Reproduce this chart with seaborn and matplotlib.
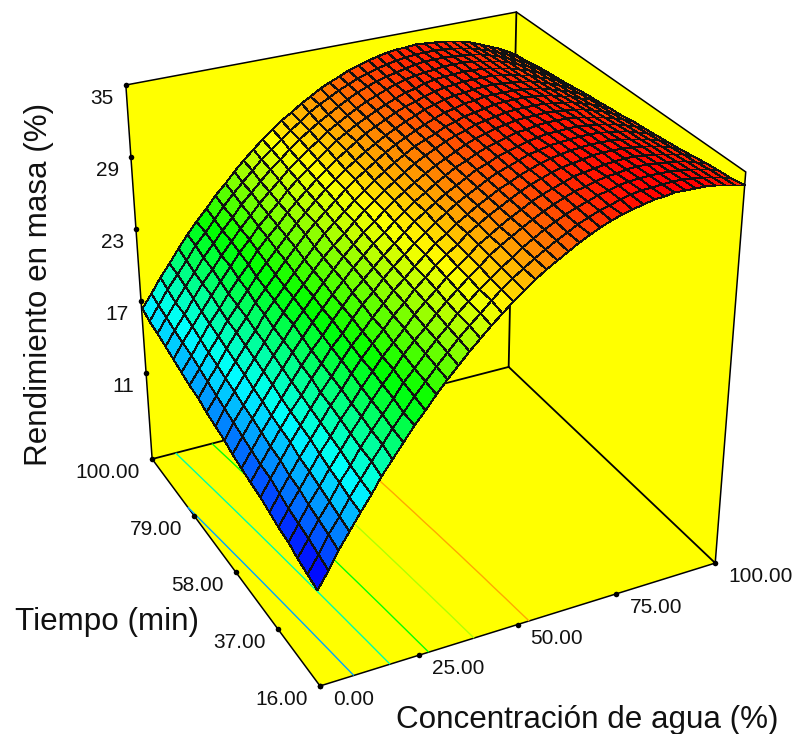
import numpy as np
import pandas as pd
import matplotlib
matplotlib.use("Agg")
import matplotlib.pyplot as plt
import seaborn as sns

# Datos

agua = [0, 2.5, 5, 7.5, 10, 12.5, 15, 17.5, 20, 22.5, 25, 27.5, 30, 32.5, 35, 37.5, 40, 42.5, 45, 47.5, 50,
        52.5, 55, 57.5, 60, 62.5, 65, 67.5, 70, 72.5, 75, 77.5, 80, 82.5, 85, 87.5, 90, 92.5, 95, 97.5, 100]
tiempo = [16.0, 20.2, 24.4, 28.6, 32.8, 37.0, 41.2, 45.4, 49.6, 53.8, 58.0,
          62.2, 66.4, 70.6, 74.8, 79.0, 83.2, 87.4, 91.6, 95.8, 100.0]

# una fila por cada concentracion de agua, una columna por cada tiempo
rendimiento = [
    [11.10, 11.38, 11.65, 11.93, 12.20, 12.48, 12.75, 13.03, 13.30, 13.58, 13.85, 14.13, 14.40, 14.68, 14.95, 15.23, 15.50, 15.78, 16.05, 16.33, 16.60],
    [12.47, 12.74, 13.00, 13.27, 13.53, 13.80, 14.06, 14.33, 14.59, 14.86, 15.12, 15.39, 15.65, 15.92, 16.18, 16.45, 16.71, 16.98, 17.24, 17.51, 17.77],
    [13.79, 14.05, 14.30, 14.56, 14.81, 15.07, 15.32, 15.58, 15.83, 16.09, 16.34, 16.60, 16.85, 17.11, 17.36, 17.62, 17.87, 18.13, 18.38, 18.64, 18.89],
    [15.08, 15.33, 15.57, 15.82, 16.06, 16.31, 16.55, 16.80, 17.04, 17.29, 17.53, 17.78, 18.02, 18.27, 18.51, 18.76, 19.00, 19.25, 19.49, 19.74, 19.98],
    [16.32, 16.56, 16.79, 17.03, 17.26, 17.50, 17.73, 17.97, 18.20, 18.44, 18.67, 18.91, 19.14, 19.38, 19.61, 19.85, 20.08, 20.32, 20.55, 20.79, 21.02],
    [17.53, 17.76, 17.98, 18.21, 18.43, 18.66, 18.88, 19.11, 19.33, 19.56, 19.78, 20.01, 20.23, 20.46, 20.68, 20.91, 21.13, 21.36, 21.58, 21.81, 22.03],
    [18.69, 18.91, 19.12, 19.34, 19.55, 19.77, 19.98, 20.20, 20.41, 20.63, 20.84, 21.06, 21.27, 21.49, 21.70, 21.92, 22.13, 22.35, 22.56, 22.78, 22.99],
    [19.81, 20.02, 20.22, 20.43, 20.63, 20.84, 21.04, 21.25, 21.45, 21.66, 21.86, 22.07, 22.27, 22.48, 22.68, 22.89, 23.09, 23.30, 23.50, 23.71, 23.91],
    [20.90, 21.10, 21.29, 21.49, 21.68, 21.88, 22.07, 22.27, 22.46, 22.66, 22.85, 23.05, 23.24, 23.44, 23.63, 23.83, 24.02, 24.22, 24.41, 24.61, 24.80],
    [21.94, 22.13, 22.31, 22.50, 22.68, 22.87, 23.05, 23.24, 23.42, 23.61, 23.79, 23.98, 24.16, 24.35, 24.53, 24.72, 24.90, 25.09, 25.27, 25.46, 25.64],
    [22.94, 23.12, 23.29, 23.47, 23.64, 23.82, 23.99, 24.17, 24.34, 24.52, 24.69, 24.87, 25.04, 25.22, 25.39, 25.57, 25.74, 25.92, 26.09, 26.27, 26.44],
    [23.90, 24.07, 24.23, 24.40, 24.56, 24.73, 24.89, 25.06, 25.22, 25.39, 25.55, 25.72, 25.88, 26.05, 26.21, 26.38, 26.54, 26.71, 26.87, 27.04, 27.20],
    [24.82, 24.98, 25.13, 25.29, 25.44, 25.60, 25.75, 25.91, 26.06, 26.22, 26.37, 26.53, 26.68, 26.84, 26.99, 27.15, 27.30, 27.46, 27.61, 27.77, 27.92],
    [25.69, 25.84, 25.98, 26.13, 26.27, 26.42, 26.56, 26.71, 26.85, 27.00, 27.14, 27.29, 27.43, 27.58, 27.72, 27.87, 28.01, 28.16, 28.30, 28.45, 28.59],
    [26.53, 26.67, 26.80, 26.94, 27.07, 27.21, 27.34, 27.48, 27.61, 27.75, 27.88, 28.02, 28.15, 28.29, 28.42, 28.56, 28.69, 28.83, 28.96, 29.10, 29.23],
    [27.33, 27.46, 27.58, 27.71, 27.83, 27.96, 28.08, 28.21, 28.33, 28.46, 28.58, 28.71, 28.83, 28.96, 29.08, 29.21, 29.33, 29.46, 29.58, 29.71, 29.83],
    [28.08, 28.20, 28.31, 28.43, 28.54, 28.66, 28.77, 28.89, 29.00, 29.12, 29.23, 29.35, 29.46, 29.58, 29.69, 29.81, 29.92, 30.04, 30.15, 30.27, 30.38],
    [28.80, 28.91, 29.01, 29.12, 29.22, 29.33, 29.43, 29.54, 29.64, 29.75, 29.85, 29.96, 30.06, 30.17, 30.27, 30.38, 30.48, 30.59, 30.69, 30.80, 30.90],
    [29.47, 29.57, 29.66, 29.76, 29.85, 29.95, 30.04, 30.14, 30.23, 30.33, 30.42, 30.52, 30.61, 30.71, 30.80, 30.90, 30.99, 31.09, 31.18, 31.28, 31.37],
    [30.11, 30.20, 30.28, 30.37, 30.45, 30.54, 30.62, 30.71, 30.79, 30.88, 30.96, 31.05, 31.13, 31.22, 31.30, 31.39, 31.47, 31.56, 31.64, 31.73, 31.81],
    [30.70, 30.78, 30.85, 30.93, 31.00, 31.08, 31.15, 31.23, 31.30, 31.38, 31.45, 31.53, 31.60, 31.68, 31.75, 31.83, 31.90, 31.98, 32.05, 32.13, 32.20],
    [31.25, 31.32, 31.38, 31.45, 31.51, 31.58, 31.64, 31.71, 31.77, 31.84, 31.90, 31.97, 32.03, 32.10, 32.16, 32.23, 32.29, 32.36, 32.42, 32.49, 32.55],
    [31.76, 31.82, 31.87, 31.93, 31.98, 32.04, 32.09, 32.15, 32.20, 32.26, 32.31, 32.37, 32.42, 32.48, 32.53, 32.59, 32.64, 32.70, 32.75, 32.81, 32.86],
    [32.23, 32.28, 32.32, 32.37, 32.41, 32.46, 32.50, 32.55, 32.59, 32.64, 32.68, 32.73, 32.77, 32.82, 32.86, 32.91, 32.95, 33.00, 33.04, 33.09, 33.13],
    [32.66, 32.70, 32.73, 32.77, 32.80, 32.84, 32.87, 32.91, 32.94, 32.98, 33.01, 33.05, 33.08, 33.12, 33.15, 33.19, 33.22, 33.26, 33.29, 33.33, 33.36],
    [33.05, 33.08, 33.10, 33.13, 33.15, 33.18, 33.20, 33.23, 33.25, 33.28, 33.30, 33.33, 33.35, 33.38, 33.40, 33.43, 33.45, 33.48, 33.50, 33.53, 33.55],
    [33.40, 33.42, 33.43, 33.45, 33.46, 33.48, 33.49, 33.51, 33.52, 33.54, 33.55, 33.57, 33.58, 33.60, 33.61, 33.63, 33.64, 33.66, 33.67, 33.69, 33.70],
    [33.71, 33.72, 33.72, 33.73, 33.73, 33.74, 33.74, 33.75, 33.75, 33.76, 33.76, 33.77, 33.77, 33.78, 33.78, 33.79, 33.79, 33.80, 33.80, 33.81, 33.81],
    [33.98, 33.98, 33.97, 33.97, 33.96, 33.96, 33.95, 33.95, 33.94, 33.94, 33.93, 33.93, 33.92, 33.92, 33.91, 33.91, 33.90, 33.90, 33.89, 33.89, 33.88],
    [34.20, 34.19, 34.17, 34.16, 34.14, 34.13, 34.11, 34.10, 34.08, 34.07, 34.05, 34.04, 34.02, 34.01, 33.99, 33.98, 33.96, 33.95, 33.93, 33.92, 33.90],
    [34.39, 34.37, 34.34, 34.32, 34.29, 34.27, 34.24, 34.22, 34.19, 34.17, 34.14, 34.12, 34.09, 34.07, 34.04, 34.02, 33.99, 33.97, 33.94, 33.92, 33.89],
    [34.53, 34.50, 34.46, 34.43, 34.39, 34.36, 34.32, 34.29, 34.25, 34.22, 34.18, 34.15, 34.11, 34.08, 34.04, 34.01, 33.97, 33.94, 33.90, 33.87, 33.83],
    [34.64, 34.60, 34.55, 34.51, 34.46, 34.42, 34.37, 34.33, 34.28, 34.24, 34.19, 34.15, 34.10, 34.06, 34.01, 33.97, 33.92, 33.88, 33.83, 33.79, 33.74],
    [34.70, 34.65, 34.59, 34.54, 34.48, 34.43, 34.37, 34.32, 34.26, 34.21, 34.15, 34.10, 34.04, 33.99, 33.93, 33.88, 33.82, 33.77, 33.71, 33.66, 33.60],
    [34.72, 34.66, 34.59, 34.53, 34.46, 34.40, 34.33, 34.27, 34.20, 34.14, 34.07, 34.01, 33.94, 33.88, 33.81, 33.75, 33.68, 33.62, 33.55, 33.49, 33.42],
    [34.70, 34.63, 34.55, 34.48, 34.40, 34.33, 34.25, 34.18, 34.10, 34.03, 33.95, 33.88, 33.80, 33.73, 33.65, 33.58, 33.50, 33.43, 33.35, 33.28, 33.20],
    [34.64, 34.56, 34.47, 34.39, 34.30, 34.22, 34.13, 34.05, 33.96, 33.88, 33.79, 33.71, 33.62, 33.54, 33.45, 33.37, 33.28, 33.20, 33.11, 33.03, 32.94],
    [34.54, 34.45, 34.35, 34.26, 34.16, 34.07, 33.97, 33.88, 33.78, 33.69, 33.59, 33.50, 33.40, 33.31, 33.21, 33.12, 33.02, 32.93, 32.83, 32.74, 32.64],
    [34.40, 34.30, 34.19, 34.09, 33.98, 33.88, 33.77, 33.67, 33.56, 33.46, 33.35, 33.25, 33.14, 33.04, 32.93, 32.83, 32.72, 32.62, 32.51, 32.41, 32.30],
    [34.22, 34.11, 33.99, 33.88, 33.76, 33.65, 33.53, 33.42, 33.30, 33.19, 33.07, 32.96, 32.84, 32.73, 32.61, 32.50, 32.38, 32.27, 32.15, 32.04, 31.92],
    [34.00, 33.88, 33.75, 33.63, 33.50, 33.38, 33.25, 33.13, 33.00, 32.88, 32.75, 32.63, 32.50, 32.38, 32.25, 32.13, 32.00, 31.88, 31.75, 31.63, 31.50],
]

niveles = [15.3, 19.4, 23.3, 27.2, 30.9]

ticks_agua = [0, 25, 50, 75, 100]
ticks_tiempo = [16, 37, 58, 79, 100]
ticks_rend = [35, 29, 23, 17, 11]

# Limites de la caja

AGUA_MIN, AGUA_MAX = 0.0, 100.0
TIEMPO_MIN, TIEMPO_MAX = 16.0, 100.0
REND_MIN, REND_MAX = 3.0, 35.0
REND_EJE_MIN = 3.83  # el eje de rendimiento va lineal sobre la arista

# Vista: vertices de la caja en pixeles (agua, tiempo, rendimiento) -> (px, py)

vista = [
    ((AGUA_MIN, TIEMPO_MAX, REND_MIN), (152, 459)),
    ((AGUA_MIN, TIEMPO_MIN, REND_MIN), (320, 686)),
    ((AGUA_MAX, TIEMPO_MIN, REND_MIN), (715, 563)),
    ((AGUA_MAX, TIEMPO_MAX, REND_MIN), (509, 367)),
    ((AGUA_MIN, TIEMPO_MAX, REND_MAX), (126, 85)),
    ((AGUA_MAX, TIEMPO_MAX, REND_MAX), (516, 12)),
    ((AGUA_MAX, TIEMPO_MIN, REND_MAX), (746, 172)),
]


def normalizar(a, t, r):
    return (
        (np.asarray(a, float) - AGUA_MIN) / (AGUA_MAX - AGUA_MIN),
        (np.asarray(t, float) - TIEMPO_MIN) / (TIEMPO_MAX - TIEMPO_MIN),
        (np.asarray(r, float) - REND_MIN) / (REND_MAX - REND_MIN),
    )


# Matriz de proyeccion en perspectiva

filas = []
for (a, t, r), (px, py) in vista:
    u, v, w = normalizar(a, t, r)
    filas.append([u, v, w, 1, 0, 0, 0, 0, -px * u, -px * v, -px * w, -px])
    filas.append([0, 0, 0, 0, u, v, w, 1, -py * u, -py * v, -py * w, -py])

P = np.linalg.svd(np.array(filas, float))[2][-1].reshape(3, 4)


def proyectar(a, t, r):
    u, v, w = normalizar(a, t, r)
    h = P[2, 0] * u + P[2, 1] * v + P[2, 2] * w + P[2, 3]
    px = (P[0, 0] * u + P[0, 1] * v + P[0, 2] * w + P[0, 3]) / h
    py = (P[1, 0] * u + P[1, 1] * v + P[1, 2] * w + P[1, 3]) / h
    return px, py


def sobre_arista(valores, lim, inicio, fin):
    # marcas repartidas por igual entre dos vertices
    ix, iy = proyectar(*inicio)
    fx_, fy_ = proyectar(*fin)
    return np.interp(valores, lim, [ix, fx_]), np.interp(valores, lim, [iy, fy_])


sns.set_theme(style="white")
plt.rcParams["font.family"] = ["Liberation Sans", "DejaVu Sans"]

fig = plt.figure(figsize=(7.95, 7.34), dpi=100)
ax = fig.add_axes([0, 0, 1, 1])
ax.set_xlim(0, 795)
ax.set_ylim(734, 0)
ax.axis("off")

mapa = sns.blend_palette(
    ["#0000ff", "#00ffff", "#00ff00", "#ffff00", "#ff0000"],
    n_colors=256,
    as_cmap=True
)
VMIN, VMAX = 11.6, 34.7

# Paredes y suelo

contorno = [
    (AGUA_MIN, TIEMPO_MAX, REND_MAX),
    (AGUA_MAX, TIEMPO_MAX, REND_MAX),
    (AGUA_MAX, TIEMPO_MIN, REND_MAX),
    (AGUA_MAX, TIEMPO_MIN, REND_MIN),
    (AGUA_MIN, TIEMPO_MIN, REND_MIN),
    (AGUA_MIN, TIEMPO_MAX, REND_MIN),
]
cx, cy = proyectar(*zip(*contorno))
ax.fill(cx, cy, facecolor="#ffff00", edgecolor="black", linewidth=1.1, zorder=1)

aristas = [
    [(AGUA_MIN, TIEMPO_MAX, REND_MIN), (AGUA_MAX, TIEMPO_MAX, REND_MIN)],
    [(AGUA_MAX, TIEMPO_MIN, REND_MIN), (AGUA_MAX, TIEMPO_MAX, REND_MIN)],
    [(AGUA_MAX, TIEMPO_MAX, REND_MIN), (AGUA_MAX, TIEMPO_MAX, REND_MAX)],
]
for arista in aristas:
    ax_, ay_ = proyectar(*zip(*arista))
    ax.plot(ax_, ay_, color="black", linewidth=1.3, zorder=2)

# Curvas de nivel en el suelo

A, T = np.meshgrid(agua, tiempo, indexing="ij")
Z = np.array(rendimiento)

fx, fy = proyectar(A, T, np.full_like(Z, REND_MIN))
ax.contour(fx, fy, Z, levels=niveles, cmap=mapa, vmin=VMIN, vmax=VMAX, linewidths=1.0, zorder=3)

# Superficie: primero las celdas lejanas

sx, sy = proyectar(A, T, Z)
celdas = (Z[:-1, :-1] + Z[1:, :-1] + Z[:-1, 1:] + Z[1:, 1:]) / 4

ax.pcolormesh(
    sx[::-1, ::-1],
    sy[::-1, ::-1],
    celdas[::-1, ::-1],
    shading="flat",
    cmap=mapa,
    vmin=VMIN,
    vmax=VMAX,
    edgecolors="#111111",
    linewidth=0.7,
    zorder=4
)

# Marcas de los ejes

mx, my = sobre_arista(
    ticks_agua, [AGUA_MIN, AGUA_MAX],
    (AGUA_MIN, TIEMPO_MIN, REND_MIN), (AGUA_MAX, TIEMPO_MIN, REND_MIN)
)
tx, ty = sobre_arista(
    ticks_tiempo, [TIEMPO_MIN, TIEMPO_MAX],
    (AGUA_MIN, TIEMPO_MIN, REND_MIN), (AGUA_MIN, TIEMPO_MAX, REND_MIN)
)
rx, ry = sobre_arista(
    ticks_rend, [REND_EJE_MIN, REND_MAX],
    (AGUA_MIN, TIEMPO_MAX, REND_MIN), (AGUA_MIN, TIEMPO_MAX, REND_MAX)
)

marcas = pd.DataFrame({
    "px": np.concatenate([mx, tx, rx]),
    "py": np.concatenate([my, ty, ry])
})

sns.scatterplot(
    data=marcas,
    x="px",
    y="py",
    color="black",
    s=16,
    linewidth=0,
    legend=False,
    zorder=5,
    ax=ax
)
ax.set_xlim(0, 795)
ax.set_ylim(734, 0)

TICK = 15
for valor, px, py in zip(ticks_agua, mx, my):
    ax.text(px + 13, py + 13.5, f"{valor:.2f}", ha="left", va="center", fontsize=TICK, color="#111111")
for valor, px, py in zip(ticks_tiempo, tx, ty):
    ax.text(px - 12, py + 13.5, f"{valor:.2f}", ha="right", va="center", fontsize=TICK, color="#111111")
for valor, px, py in zip(ticks_rend, rx, ry):
    ax.text(px - 12, py + 13.5, f"{valor}", ha="right", va="center", fontsize=TICK, color="#111111")

# Titulos de los ejes

ax.text(39, 284, "Rendimiento en masa (%)", rotation=90, ha="center", va="center", fontsize=22.6, color="#111111")
ax.text(15, 622, "Tiempo (min)", ha="left", va="center", fontsize=22.6, color="#111111")
ax.text(396, 720, "Concentración de agua (%)", ha="left", va="center", fontsize=22.6, color="#111111")

plt.savefig("out.png", dpi=100)
